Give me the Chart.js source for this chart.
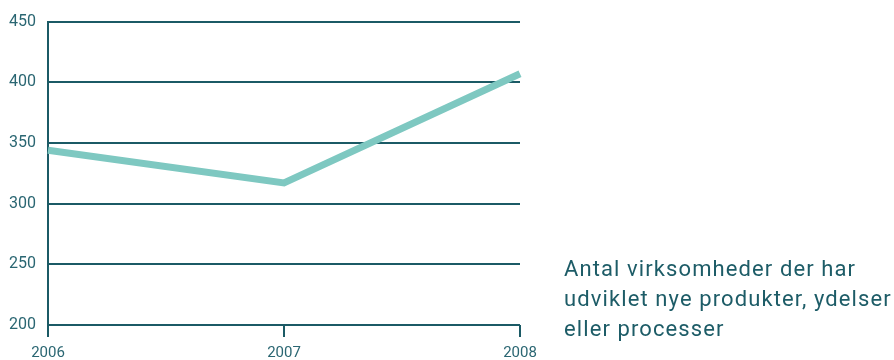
<!DOCTYPE html>
<html>
<head>
<meta charset="utf-8">
<script src="https://cdn.jsdelivr.net/npm/chart.js@4"></script>
<style>
    html, body { margin: 0; padding: 0; background: #fff; }
    #wrap { position: relative; width: 894px; height: 360px; }
    #note {
        position: absolute; left: 564px; top: 254px;
        font-family: Roboto, sans-serif; font-size: 22px; line-height: 30px;
        letter-spacing: 1.1px; white-space: nowrap;
        color: #1d5c67;
    }
</style>
</head>
<body>
<div id="wrap">
    <canvas id="chart" width="894" height="360"></canvas>
    <div id="note">Antal virksomheder der har<br>udviklet nye produkter, ydelser<br>eller processer</div>
</div>
<script>
const years = ['2006', '2007', '2008'];
const virksomheder = [344, 317, 407];
const yTicks = [200, 250, 300, 350, 400, 450];

const dark = '#1b5a65';
const ctx = document.getElementById('chart');
const chart = new Chart(ctx, {
    type: 'line',
    data: {
        labels: years,
        datasets: [{
            data: virksomheder,
            borderColor: '#7ec8c1',
            borderWidth: 7,
            pointRadius: 0,
            tension: 0,
            borderCapStyle: 'butt'
        }]
    },
    options: {
        responsive: false,
        animation: false,
        layout: { padding: { top: 12, right: 374, left: 0, bottom: 0 } },
        plugins: { legend: { display: false }, tooltip: { enabled: false } },
        scales: {
            x: {
                offset: false,
                grid: { drawOnChartArea: false, drawTicks: true, tickLength: 12, color: dark, lineWidth: 2 },
                border: { display: false },
                ticks: { color: '#2a6672', font: { family: 'Roboto', size: 15 }, padding: 7, maxRotation: 0 },
                afterFit: (s) => { s.height = 35; }
            },
            y: {
                min: 200,
                max: 450,
                afterBuildTicks: (s) => { s.ticks = yTicks.map(v => ({ value: v })); },
                grid: { drawTicks: false, color: dark, lineWidth: 2 },
                border: { display: true, color: dark, width: 2 },
                ticks: { color: '#2a6672', font: { family: 'Roboto', size: 16 }, padding: 12 },
                afterFit: (s) => { s.width = 48; }
            }
        }
    }
});
</script>
</body>
</html>
